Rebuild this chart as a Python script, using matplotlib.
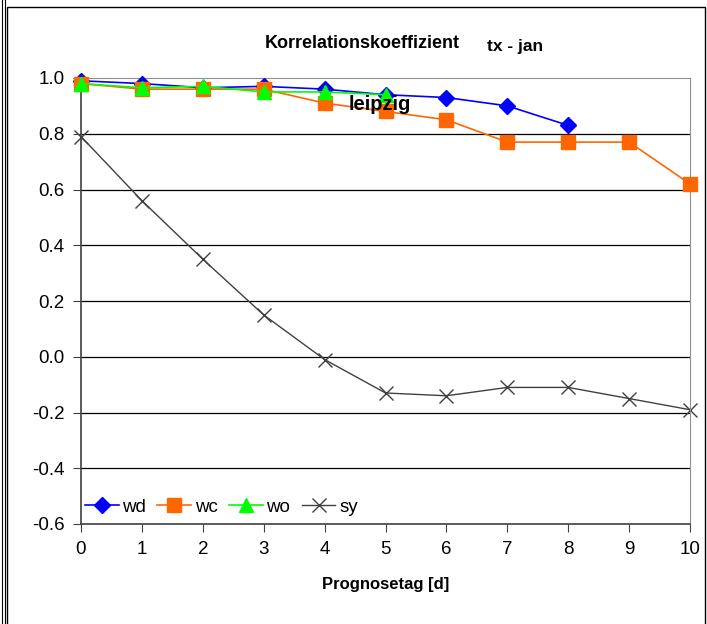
import matplotlib
matplotlib.use("Agg")
import matplotlib.pyplot as plt
from matplotlib.lines import Line2D
from matplotlib.patches import Rectangle

plt.rcParams['font.family'] = ['Liberation Sans', 'DejaVu Sans']

days = [0, 1, 2, 3, 4, 5, 6, 7, 8, 9, 10]
wd = [0.99, 0.98, 0.965, 0.97, 0.96, 0.94, 0.93, 0.90, 0.83]
wc = [0.98, 0.96, 0.96, 0.96, 0.91, 0.88, 0.85, 0.77, 0.77, 0.77, 0.62]
wo = [0.98, 0.965, 0.97, 0.95, 0.95, 0.94]
sy = [0.79, 0.56, 0.35, 0.15, -0.01, -0.13, -0.14, -0.11, -0.11, -0.15, -0.19]
yticks = [1.0, 0.8, 0.6, 0.4, 0.2, 0.0, -0.2, -0.4, -0.6]

fig = plt.figure(figsize=(7.07, 6.24), dpi=100)
ax = fig.add_axes([81/707, 1-524/624, 609/707, 446/624])

# outer frame like the excel export
fig.add_artist(Line2D([1.5/707, 1.5/707], [0, 1], color='black', lw=0.8))
fig.add_artist(Line2D([5/707, 5/707], [0, 1], color='black', lw=0.8))
fig.add_artist(Rectangle((7/707, -0.01), 698/707, 1 - 7/624 + 0.01, fill=False,
                         edgecolor='black', lw=1.0, transform=fig.transFigure))

for v in yticks[1:-1]:
    ax.axhline(v, color='black', lw=0.9, zorder=0)

ax.plot(days[:len(wd)], wd, color='#0000ff', lw=1.2, marker='D', ms=8,
        label='wd', zorder=3, clip_on=False)
ax.plot(days[:len(wc)], wc, color='#ff6600', lw=1.2, marker='s', ms=10,
        label='wc', zorder=4, clip_on=False)
ax.plot(days[:len(wo)], wo, color='#00ff00', lw=1.2, marker='^', ms=10,
        label='wo', zorder=5, clip_on=False)
ax.plot(days[:len(sy)], sy, color='#404040', lw=1, marker='x', ms=10, mew=1,
        label='sy', zorder=2, clip_on=False)

ax.set_xlim(0, 10)
ax.set_ylim(-0.6, 1.0)
ax.set_xticks(days)
ax.set_yticks(yticks)
ax.set_yticklabels([f'{v:.1f}' for v in yticks])
ax.tick_params(labelsize=13.5, direction='out', length=6, color='#404040', pad=6)

for s in ['top', 'right']:
    ax.spines[s].set_color('#909090')
ax.spines['left'].set_color('#404040')
ax.spines['bottom'].set_color('#404040')
ax.spines['left'].set_linewidth(1.2)
ax.spines['bottom'].set_linewidth(1.2)

leg = ax.legend(loc='lower left', bbox_to_anchor=(0.0, 0.01), ncol=4, frameon=False,
                fontsize=13.5, handlelength=1.8, handletextpad=0.2, columnspacing=0.6,
                borderpad=0.2, borderaxespad=0.0)

ax.set_xlabel('Prognosetag [d]', fontsize=12, fontweight='bold', labelpad=14)
fig.text(362/707, 1-44/624, 'Korrelationskoeffizient', ha='center', va='center',
         fontsize=13, fontweight='bold')
fig.text(515/707, 1-47/624, 'tx - jan', ha='center', va='center',
         fontsize=12.5, fontweight='bold')
ax.text(4.4, 0.905, 'leipzig', ha='left', va='center', fontsize=14.5, fontweight='bold',
        zorder=6)

fig.savefig('out.png', dpi=100)
